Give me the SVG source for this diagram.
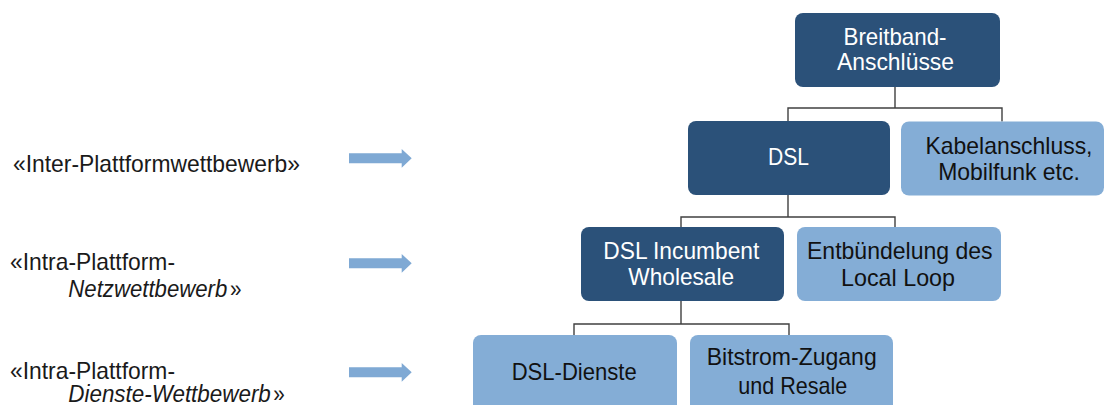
<svg xmlns="http://www.w3.org/2000/svg" width="1104" height="405" viewBox="0 0 1104 405">
<style>
text{font-family:"Liberation Sans",Arial,sans-serif;font-size:24px}
.dark{fill:#2B5179}
.light{fill:#84ADD6}
.wt{fill:#FFFFFF;text-anchor:middle}
.bt{fill:#111111;text-anchor:middle}
.lbl{fill:#1A1A1A}
.it{font-style:italic}
.conn{fill:none;stroke:#404040;stroke-width:1.4}
.arr{fill:#7FA9D4}
</style>
<rect width="1104" height="405" fill="#FFFFFF"/>
<g id="connectors">
<path class="conn" d="M895,87 V108 M788,121 V108 H1002 V121.5"/>
<path class="conn" d="M788,195 V217 M681,227 V217 H895 V227"/>
<path class="conn" d="M681,301 V324 M574,335 V324 H789 V335"/>
</g>
<g id="node-breitband">
<rect class="dark" x="795" y="13" width="205" height="74" rx="8"/>
<text class="wt" x="895" y="45" textLength="103" lengthAdjust="spacingAndGlyphs">Breitband-</text>
<text class="wt" x="895.5" y="70" textLength="117" lengthAdjust="spacingAndGlyphs">Anschlüsse</text>
</g>
<g id="node-dsl">
<rect class="dark" x="688" y="121" width="202" height="74" rx="8"/>
<text class="wt" x="788.5" y="165" textLength="41" lengthAdjust="spacingAndGlyphs">DSL</text>
</g>
<g id="node-kabel">
<rect class="light" x="901" y="121.5" width="203" height="74" rx="8"/>
<text class="bt" x="1009" y="154" textLength="167" lengthAdjust="spacingAndGlyphs">Kabelanschluss,</text>
<text class="bt" x="1009" y="180" textLength="141.7" lengthAdjust="spacingAndGlyphs">Mobilfunk etc.</text>
</g>
<g id="node-incumbent">
<rect class="dark" x="581" y="227" width="203" height="74" rx="8"/>
<text class="wt" x="681.3" y="259" textLength="156" lengthAdjust="spacingAndGlyphs">DSL Incumbent</text>
<text class="wt" x="681.2" y="285" textLength="105.7" lengthAdjust="spacingAndGlyphs">Wholesale</text>
</g>
<g id="node-entbuendelung">
<rect class="light" x="797" y="227" width="204" height="74" rx="8"/>
<text class="bt" x="899.8" y="259" textLength="185.6" lengthAdjust="spacingAndGlyphs">Entbündelung des</text>
<text class="bt" x="898" y="286" textLength="114" lengthAdjust="spacingAndGlyphs">Local Loop</text>
</g>
<g id="node-dsl-dienste">
<rect class="light" x="473" y="335" width="204" height="80" rx="8"/>
<text class="bt" x="574.2" y="380" textLength="125" lengthAdjust="spacingAndGlyphs">DSL-Dienste</text>
</g>
<g id="node-bitstrom">
<rect class="light" x="690" y="335" width="203" height="80" rx="8"/>
<text class="bt" x="791.7" y="365" textLength="170" lengthAdjust="spacingAndGlyphs">Bitstrom-Zugang</text>
<text class="bt" x="792.8" y="394" textLength="109" lengthAdjust="spacingAndGlyphs">und Resale</text>
</g>
<g id="label-inter">
<text class="lbl" x="13" y="171.5" textLength="287" lengthAdjust="spacingAndGlyphs">«Inter-Plattformwettbewerb»</text>
<path class="arr" d="M349,153.3 H401.7 V149 L411.7,158.3 L401.7,167.7 V163.3 H349 Z"/>
</g>
<g id="label-intra-netz">
<text class="lbl" x="10" y="270" textLength="165" lengthAdjust="spacingAndGlyphs">«Intra-Plattform-</text>
<text class="lbl it" x="68.3" y="297" textLength="159" lengthAdjust="spacingAndGlyphs">Netzwettbewerb</text>
<text class="lbl" x="230" y="297" textLength="11.5" lengthAdjust="spacingAndGlyphs">»</text>
<path class="arr" d="M349,258.3 H401.7 V254 L411.7,263.3 L401.7,272.7 V268.3 H349 Z"/>
</g>
<g id="label-intra-dienste">
<text class="lbl" x="10" y="378.5" textLength="165" lengthAdjust="spacingAndGlyphs">«Intra-Plattform-</text>
<text class="lbl it" x="68.3" y="401.5" textLength="202.5" lengthAdjust="spacingAndGlyphs">Dienste-Wettbewerb</text>
<text class="lbl" x="273.2" y="401.5" textLength="11.5" lengthAdjust="spacingAndGlyphs">»</text>
<path class="arr" d="M349,367.3 H401.7 V363 L411.7,372.3 L401.7,381.7 V377.3 H349 Z"/>
</g>
</svg>
